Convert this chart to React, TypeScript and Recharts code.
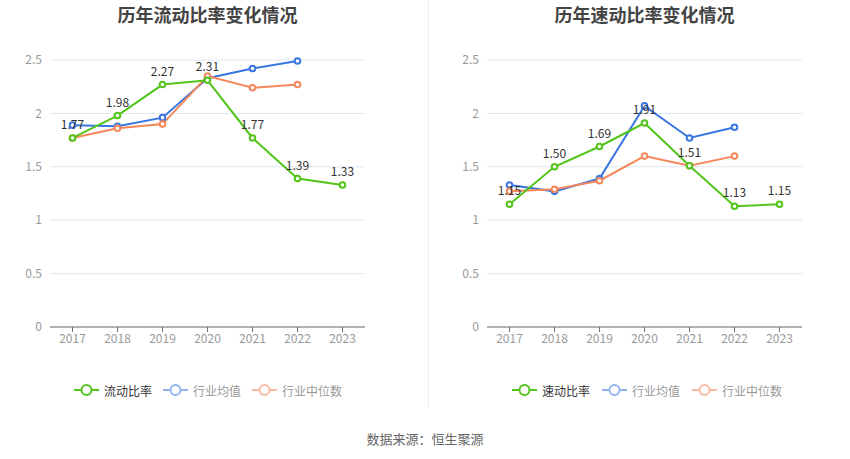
import React from "react";
import { LineChart, Line, XAxis, YAxis, CartesianGrid, LabelList } from "recharts";

const years = ["2017", "2018", "2019", "2020", "2021", "2022", "2023"];
const currentRatio = [1.77, 1.98, 2.27, 2.31, 1.77, 1.39, 1.33];
const currentAvg = [1.89, 1.88, 1.96, 2.33, 2.42, 2.49, null];
const currentMedian = [1.77, 1.86, 1.9, 2.35, 2.24, 2.27, null];
const quickRatio = [1.15, 1.5, 1.69, 1.91, 1.51, 1.13, 1.15];
const quickAvg = [1.33, 1.27, 1.39, 2.07, 1.77, 1.87, null];
const quickMedian = [1.27, 1.29, 1.37, 1.6, 1.51, 1.6, null];
const yTicks = [0, 0.5, 1, 1.5, 2, 2.5];

const GREEN = "#52c41a";
const BLUE = "#3a76e0";
const ORANGE = "#f5875a";
const FONT = "'Noto Sans CJK SC', 'Noto Sans', sans-serif";

const build = (main: number[], avg: (number | null)[], med: (number | null)[]) =>
  years.map((y, i) => ({ year: y, main: main[i], avg: avg[i], med: med[i] }));

const Dot = (color: string) => (props: any) => {
  const { cx, cy, value } = props;
  if (value == null || cx == null || cy == null) return <g key={props.index} />;
  return <circle key={props.index} cx={cx} cy={cy} r={2.8} fill="#fff" stroke={color} strokeWidth={2} />;
};

function Chart({ data, left, marginLeft, marginRight }: any) {
  return (
    <div style={{ position: "absolute", left, top: 0 }}>
      <LineChart
        width={425}
        height={360}
        data={data}
        margin={{ top: 60, right: marginRight, bottom: 3, left: marginLeft }}
      >
        <CartesianGrid vertical={false} stroke="#e0e6f1" />
        <XAxis
          dataKey="year"
          axisLine={{ stroke: "#6e7079" }}
          tickLine={{ stroke: "#6e7079" }}
          tickSize={5}
          padding={{ left: 22.5, right: 22.5 }}
          tick={{ fill: "#999", fontSize: 12, fontFamily: FONT }}
          height={30}
          interval={0}
        />
        <YAxis
          domain={[0, 2.5]}
          ticks={yTicks}
          axisLine={false}
          tickLine={false}
          width={50}
          tick={{ fill: "#999", fontSize: 12, fontFamily: FONT }}
        />
        <Line
          dataKey="avg"
          stroke={BLUE}
          strokeWidth={2}
          dot={Dot(BLUE)}
          activeDot={false}
          isAnimationActive={false}
        />
        <Line
          dataKey="med"
          stroke={ORANGE}
          strokeWidth={2}
          dot={Dot(ORANGE)}
          activeDot={false}
          isAnimationActive={false}
        />
        <Line
          dataKey="main"
          stroke={GREEN}
          strokeWidth={2}
          dot={Dot(GREEN)}
          activeDot={false}
          isAnimationActive={false}
        >
          <LabelList
            dataKey="main"
            position="top"
            offset={9}
            fill="#333"
            fontSize={12}
            fontFamily={FONT}
            formatter={(v: any) => Number(v).toFixed(2)}
          />
        </Line>
      </LineChart>
    </div>
  );
}

function LegendItem({ x, light, label, textColor }: any) {
  return (
    <div style={{ position: "absolute", left: x, top: 382, display: "flex", alignItems: "center", height: 16 }}>
      <svg width={25} height={16}>
        <line x1={0} y1={8} x2={25} y2={8} stroke={light} strokeWidth={2} />
        <circle cx={12.5} cy={8} r={5} fill="#fff" stroke={light} strokeWidth={2} />
      </svg>
      <span style={{ marginLeft: 5, fontSize: 12, color: textColor, fontFamily: FONT, whiteSpace: "nowrap" }}>
        {label}
      </span>
    </div>
  );
}

export default function App() {
  return (
    <div style={{ position: "absolute", left: 0, top: 0, width: 850, height: 459, background: "#fff", fontFamily: FONT }}>
      <div style={{ position: "absolute", left: 0, width: 415, top: 1, textAlign: "center", fontSize: 18, fontWeight: "bold", color: "#444" }}>
        历年流动比率变化情况
      </div>
      <div style={{ position: "absolute", left: 437, width: 415, top: 1, textAlign: "center", fontSize: 18, fontWeight: "bold", color: "#444" }}>
        历年速动比率变化情况
      </div>
      <div style={{ position: "absolute", left: 428, top: 0, width: 1, height: 408, background: "#f0f0f0" }} />
      <Chart data={build(currentRatio, currentAvg, currentMedian)} left={0} marginLeft={0} marginRight={60} />
      <Chart data={build(quickRatio, quickAvg, quickMedian)} left={425} marginLeft={12} marginRight={48} />
      <LegendItem x={74} light={GREEN} label="流动比率" textColor="#333" />
      <LegendItem x={163} light="#93b4f0" label="行业均值" textColor="#999" />
      <LegendItem x={252} light="#f9bba0" label="行业中位数" textColor="#999" />
      <LegendItem x={512} light={GREEN} label="速动比率" textColor="#333" />
      <LegendItem x={602} light="#93b4f0" label="行业均值" textColor="#999" />
      <LegendItem x={692} light="#f9bba0" label="行业中位数" textColor="#999" />
      <div style={{ position: "absolute", left: 0, width: 850, top: 429, textAlign: "center", fontSize: 13, color: "#666" }}>
        数据来源：恒生聚源
      </div>
    </div>
  );
}
